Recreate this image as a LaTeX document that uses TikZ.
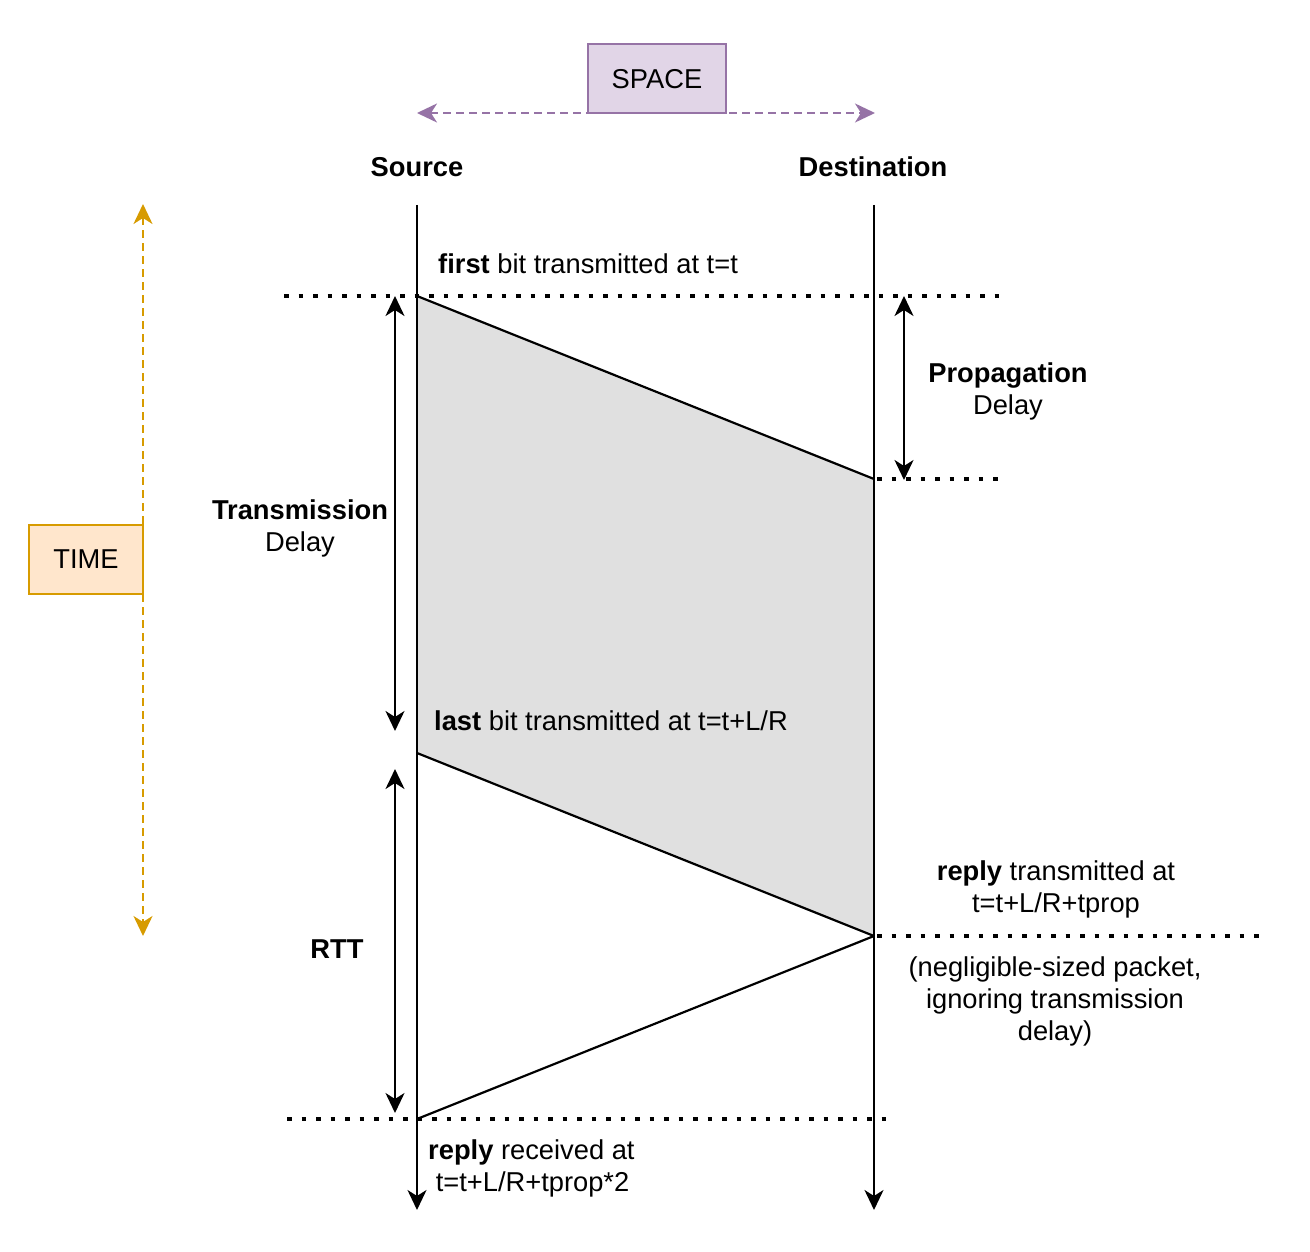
\documentclass[tikz,border=0pt]{standalone}
\usepackage{fontspec}
\setmainfont{Liberation Sans}
\usetikzlibrary{arrows.meta}
\definecolor{spacefill}{HTML}{E1D5E7}
\definecolor{spacedraw}{HTML}{9673A6}
\definecolor{timefill}{HTML}{FFE6CC}
\definecolor{timedraw}{HTML}{D79B00}
\definecolor{pktgray}{HTML}{E0E0E0}
\tikzset{
  lbl/.style={font=\fontsize{27.3}{32}\selectfont, inner sep=0pt, align=center, text=black},
  axisbox/.style={line width=2pt, minimum width=#1, minimum height=69pt, inner sep=0pt, font=\fontsize{27.3}{32}\selectfont},
  tipa/.style={-{Stealth[length=20pt,width=19pt,inset=6pt]}},
  tipb/.style={{Stealth[length=20pt,width=19pt,inset=6pt]}-{Stealth[length=20pt,width=19pt,inset=6pt]}},
  lifeline/.style={line width=2.2pt, tipa},
  dimarrow/.style={line width=2.2pt, tipb},
  dotline/.style={line width=4.5pt, dash pattern=on 4.5pt off 10pt},
  edgeline/.style={line width=2.2pt},
  purpdash/.style={draw=spacedraw, line width=2.2pt, dash pattern=on 8pt off 5pt, tipb},
  golddash/.style={draw=timedraw, line width=2.2pt, dash pattern=on 8pt off 5pt, tipb},
}
\begin{document}
\begin{tikzpicture}[x=1pt,y=-1pt]
\useasboundingbox (0,0) rectangle (1310,1252);

% key coordinates
\coordinate (srcTop) at (417,205);
\coordinate (srcEnd) at (417,1210);
\coordinate (dstTop) at (874,205);
\coordinate (dstEnd) at (874,1210);
\coordinate (p1) at (417,296);
\coordinate (p2) at (874,479);
\coordinate (p3) at (874,936);
\coordinate (p4) at (417,753);
\coordinate (p5) at (417,1119);

% packet parallelogram
\fill[pktgray] (p1) -- (p2) -- (p3) -- (p4) -- cycle;
\draw[edgeline] (p1) -- (p2);
\draw[edgeline] (p4) -- (p3);
\draw[edgeline] (p3) -- (p5);

% dotted time marks
\coordinate (d1a) at (284,296); \coordinate (d1b) at (1000,296);
\coordinate (d2a) at (877,479); \coordinate (d2b) at (1006,479);
\coordinate (d3a) at (877,936); \coordinate (d3b) at (1265,936);
\coordinate (d4a) at (287,1119); \coordinate (d4b) at (892,1119);
\draw[dotline] (d1a) -- (d1b);
\draw[dotline] (d2a) -- (d2b);
\draw[dotline] (d3a) -- (d3b);
\draw[dotline] (d4a) -- (d4b);

% lifelines
\draw[lifeline] (srcTop) -- (srcEnd);
\draw[lifeline] (dstTop) -- (dstEnd);

% dimension arrows
\coordinate (txA) at (395,296); \coordinate (txB) at (395,731);
\coordinate (rtA) at (395,769); \coordinate (rtB) at (395,1113);
\coordinate (ppA) at (904,296); \coordinate (ppB) at (904,480);
\draw[dimarrow] (txA) -- (txB);
\draw[dimarrow] (rtA) -- (rtB);
\draw[dimarrow] (ppA) -- (ppB);

% SPACE axis
\coordinate (spL) at (417,113); \coordinate (spR) at (875,113);
\draw[purpdash] (spL) -- (spR);
\node[axisbox=138pt, draw=spacedraw, fill=spacefill] (space) at (657,79) {SPACE};

% TIME axis
\coordinate (tmT) at (143,204); \coordinate (tmB) at (143,936);
\draw[golddash] (tmT) -- (tmB);
\node[axisbox=114pt, draw=timedraw, fill=timefill] (time) at (86,559) {TIME};

% labels
\node[lbl] (srcLbl) at (417,167) {\textbf{Source}};
\node[lbl] (dstLbl) at (873,167) {\textbf{Destination}};
\node[lbl, anchor=west] (first) at (438,264) {\textbf{first} bit transmitted at t=t};
\node[lbl] (prop) at (1008,391) {\textbf{Propagation}\\Delay};
\node[lbl] (trans) at (300,528) {\textbf{Transmission}\\Delay};
\node[lbl, anchor=west] (last) at (434,721) {\textbf{last} bit transmitted at t=t+L/R};
\node[lbl] (replyTx) at (1056,889) {\textbf{reply} transmitted at\\t=t+L/R+tprop};
\node[lbl] (neglig) at (1055,1001) {(negligible-sized packet,\\ignoring transmission\\delay)};
\node[lbl] (rtt) at (337,949) {\textbf{RTT}};
\node[lbl, anchor=west, align=left] (replyRx) at (428,1168) {\textbf{reply} received at\\\ t=t+L/R+tprop*2};
\end{tikzpicture}
\end{document}
